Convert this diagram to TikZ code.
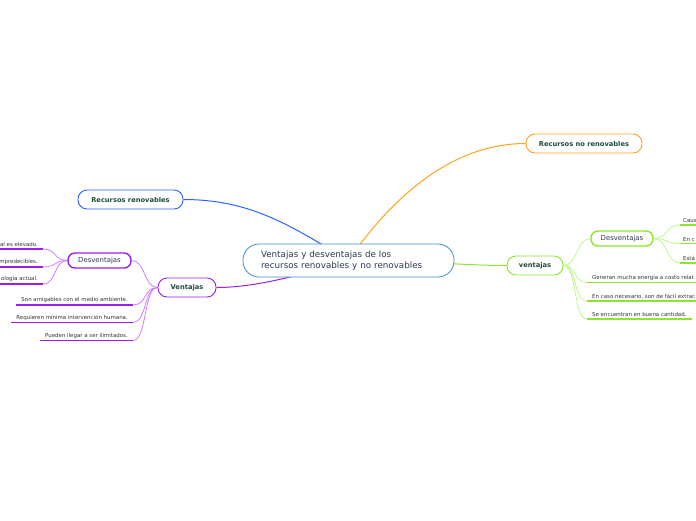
\documentclass[tikz,border=0pt]{standalone}
\usepackage{fontspec}
\setmainfont{DejaVu Sans}
\usetikzlibrary{backgrounds}
\definecolor{centerc}{HTML}{3D8FCF}
\definecolor{bluec}{HTML}{2F5FFF}
\definecolor{orangec}{HTML}{FFA21F}
\definecolor{purplec}{HTML}{9B1FE8}
\definecolor{purplel}{HTML}{CC80FF}
\definecolor{greenc}{HTML}{8CE62E}
\definecolor{greenl}{HTML}{BDF78A}
\definecolor{labeltxt}{HTML}{1E4D3C}
\definecolor{maintxt}{HTML}{2D3A55}
\definecolor{leaftxt}{HTML}{333333}

\begin{document}
\begin{tikzpicture}[x=1pt,y=-1pt,
  topic/.style={draw, fill=white, rounded corners=9pt, minimum height=19pt, inner xsep=0pt,
    line width=0.9pt, text=labeltxt, font=\fontsize{6.7}{8}\selectfont\bfseries},
  subtopic/.style={draw, fill=white, rounded corners=7pt, minimum height=15pt, inner xsep=0pt,
    line width=1.4pt, text=maintxt, font=\fontsize{6.9}{8}\selectfont},
  leaf/.style={inner xsep=5pt, inner ysep=2pt, text=leaftxt, font=\fontsize{5.45}{6}\selectfont},
  ulP/.style={purplec, line width=1.8pt},
  ulG/.style={greenc, line width=1.8pt},
  linkP/.style={purplel, line width=0.8pt},
  linkG/.style={greenl, line width=0.8pt}]
  \useasboundingbox (0,0) rectangle (696,520);

  \node[draw=centerc, fill=white, line width=0.8pt, rounded corners=16pt, minimum height=33pt,
    inner xsep=18pt, text width=175pt, align=left, text=maintxt,
    font=\fontsize{8.75}{11}\selectfont] (c) at (348.5,260.5)
    {Ventajas y desventajas de los\\recursos renovables y no renovables};

  \node[topic, draw=bluec, minimum width=105pt] (rr) at (130.5,199.5) {Recursos renovables};
  \node[topic, draw=orangec, minimum width=116pt] (rn) at (584,143.5) {Recursos no renovables};
  \node[topic, draw=purplec, minimum width=58pt] (vl) at (187,287.5) {Ventajas};
  \node[topic, draw=greenc, minimum width=56pt] (vr) at (535,265.5) {ventajas};
  \node[subtopic, draw=purplec, minimum width=63pt] (dl) at (99.5,260.5) {Desventajas};
  \node[subtopic, draw=greenc, minimum width=62pt] (dr) at (622,238.5) {Desventajas};

  \node[leaf, anchor=south east] (dl1) at (43,249) {al es elevado.};
  \node[leaf, anchor=south east] (dl2) at (43,267) {impredecibles.};
  \node[leaf, anchor=south east] (dl3) at (43,284) {ología actual.};
  \node[leaf, anchor=south east] (vl1) at (133,305) {Son amigables con el medio ambiente.};
  \node[leaf, anchor=south east] (vl2) at (133,322.5) {Requieren mínima intervención humana.};
  \node[leaf, anchor=south east] (vl3) at (133,340.5) {Pueden llegar a ser ilimitados.};

  \node[leaf, anchor=south west, inner xsep=3pt, text width=24pt] (dr1) at (680,225) {Caus};
  \node[leaf, anchor=south west, inner xsep=3pt, text width=24pt] (dr2) at (680,243.5) {En c};
  \node[leaf, anchor=south west, inner xsep=3pt, text width=24pt] (dr3) at (680,263) {Está};
  \node[leaf, anchor=south west] (vr1) at (587,282.5) {Generan mucha energía a costo relat};
  \node[leaf, anchor=south west] (vr2) at (587,301) {En caso necesario, son de fácil extrac};
  \node[leaf, anchor=south west] (vr3) at (587,319) {Se encuentran en buena cantidad.};

  \foreach \n in {dl1,dl2,dl3,vl1,vl2,vl3}
    \draw[ulP] (\n.south west) -- (\n.south east);
  \foreach \n in {dr1,dr2,dr3,vr1,vr2,vr3}
    \draw[ulG] (\n.south west) -- (\n.south east);

  \begin{pgfonlayer}{background}
    \draw[bluec, line width=1pt] (rr.east) .. controls (250,199.5) and (290,225) .. (c.center);
    \draw[orangec, line width=1pt] (c.center) .. controls (390,200) and (450,143.5) .. (rn.west);
    \draw[purplec, line width=1pt] (vl.east) .. controls (260,287.5) and (310,272) .. (c.center);
    \draw[greenc, line width=1pt] (c.center) .. controls (440,262) and (470,265.5) .. (vr.west);

    \draw[linkP] (vl.west) .. controls +(-14,0) and +(14,0) .. (dl.east);
    \foreach \n in {vl1,vl2,vl3}
      \draw[linkP] (vl.west) .. controls +(-14,0) and +(14,0) .. (\n.south east);
    \foreach \n in {dl1,dl2,dl3}
      \draw[linkP] (dl.west) .. controls +(-14,0) and +(14,0) .. (\n.south east);

    \draw[linkG] (vr.east) .. controls +(14,0) and +(-14,0) .. (dr.west);
    \foreach \n in {vr1,vr2,vr3}
      \draw[linkG] (vr.east) .. controls +(14,0) and +(-14,0) .. (\n.south west);
    \foreach \n in {dr1,dr2,dr3}
      \draw[linkG] (dr.east) .. controls +(14,0) and +(-14,0) .. (\n.south west);
  \end{pgfonlayer}
\end{tikzpicture}
\end{document}
